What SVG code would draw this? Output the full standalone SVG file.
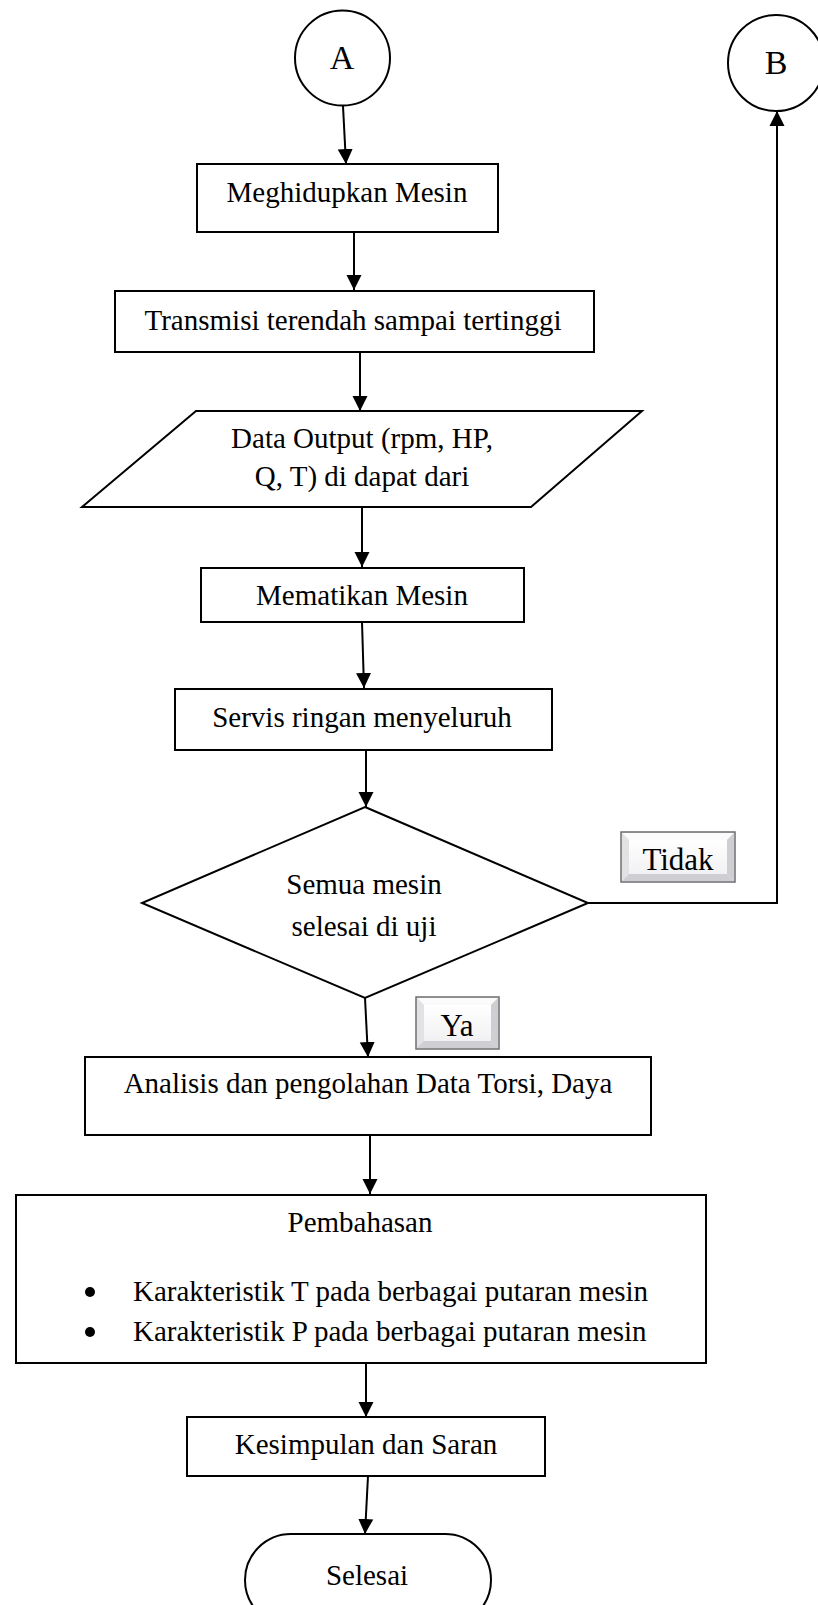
<svg xmlns="http://www.w3.org/2000/svg" width="818" height="1605" viewBox="0 0 818 1605">
  <style>
    .shape { fill: #ffffff; stroke: #000000; stroke-width: 2; }
    .txt { font-family: "Liberation Serif", "Times New Roman", serif; font-size: 29px; fill: #000000; }
    .mid { text-anchor: middle; }
    .big { font-size: 34px; }
    .lbl { font-family: "Liberation Serif", "Times New Roman", serif; font-size: 31px; fill: #000000; text-anchor: middle; }
    .conn { fill: none; stroke: #000000; stroke-width: 2; }
    .bev-out { fill: #e9e9ec; stroke: #6e6e70; stroke-width: 1.5; }
    .bev-lt { fill: #fbfbfb; }
    .bev-dk { fill: #cfcfd3; }
    .bev-md { fill: #e2e2e5; }
  </style>
  <defs>
    <marker id="arrow" markerUnits="userSpaceOnUse" markerWidth="16" markerHeight="16" viewBox="0 0 16 16" refX="15" refY="8" orient="auto">
      <path d="M0,0.5 L15,8 L0,15.5 Z" fill="#000000"/>
    </marker>
    <linearGradient id="face" x1="0" y1="0" x2="0" y2="1">
      <stop offset="0" stop-color="#ffffff"/>
      <stop offset="1" stop-color="#f1f1f3"/>
    </linearGradient>
  </defs>

  <rect width="818" height="1605" fill="#ffffff"/>

  <!-- connectors -->
  <g id="connectors">
    <line class="conn" x1="343" y1="106" x2="346" y2="164" marker-end="url(#arrow)"/>
    <line class="conn" x1="354" y1="232" x2="354" y2="290" marker-end="url(#arrow)"/>
    <line class="conn" x1="360" y1="352" x2="360" y2="411" marker-end="url(#arrow)"/>
    <line class="conn" x1="362" y1="507" x2="362" y2="567" marker-end="url(#arrow)"/>
    <line class="conn" x1="362" y1="622" x2="364" y2="688" marker-end="url(#arrow)"/>
    <line class="conn" x1="366" y1="750" x2="366" y2="807" marker-end="url(#arrow)"/>
    <polyline class="conn" points="588,903 777,903 777,111" marker-end="url(#arrow)"/>
    <line class="conn" x1="365" y1="998" x2="368" y2="1057" marker-end="url(#arrow)"/>
    <line class="conn" x1="370" y1="1135" x2="370" y2="1194" marker-end="url(#arrow)"/>
    <line class="conn" x1="366" y1="1363" x2="366" y2="1417" marker-end="url(#arrow)"/>
    <line class="conn" x1="368" y1="1476" x2="365" y2="1534" marker-end="url(#arrow)"/>
  </g>

  <!-- connector A -->
  <g id="node-a">
    <circle class="shape" cx="342.5" cy="58" r="47.5"/>
    <text class="txt mid big" x="342" y="69">A</text>
  </g>

  <!-- connector B -->
  <g id="node-b">
    <circle class="shape" cx="776" cy="63" r="48"/>
    <text class="txt mid big" x="776" y="74">B</text>
  </g>

  <g id="node-start-engine">
    <rect class="shape" x="197" y="164" width="301" height="68"/>
    <text class="txt mid" x="347" y="202">Meghidupkan Mesin</text>
  </g>

  <g id="node-transmission">
    <rect class="shape" x="115" y="291" width="479" height="61"/>
    <text class="txt mid" x="353" y="330">Transmisi terendah sampai tertinggi</text>
  </g>

  <g id="node-output-data">
    <polygon class="shape" points="196,411 642,411 531,507 82,507"/>
    <text class="txt mid" x="362" y="448">Data Output (rpm, HP,</text>
    <text class="txt mid" x="362" y="486">Q, T) di dapat dari</text>
  </g>

  <g id="node-stop-engine">
    <rect class="shape" x="201" y="568" width="323" height="54"/>
    <text class="txt mid" x="362" y="605">Mematikan Mesin</text>
  </g>

  <g id="node-service">
    <rect class="shape" x="175" y="689" width="377" height="61"/>
    <text class="txt mid" x="362" y="727">Servis ringan menyeluruh</text>
  </g>

  <g id="node-decision">
    <polygon class="shape" points="365,807 588,903 365,998 142,903"/>
    <text class="txt mid" x="364" y="894">Semua mesin</text>
    <text class="txt mid" x="364" y="936">selesai di uji</text>
  </g>

  <!-- bevelled branch labels -->
  <g id="label-tidak">
    <rect class="bev-out" x="621" y="832" width="114" height="50"/>
    <polygon class="bev-lt" points="622,833 734,833 727,840 629,840"/>
    <polygon class="bev-md" points="622,833 629,840 629,874 622,881"/>
    <polygon class="bev-dk" points="734,833 734,881 727,874 727,840"/>
    <polygon class="bev-dk" points="622,881 629,874 727,874 734,881"/>
    <rect x="629" y="840" width="98" height="34" fill="url(#face)"/>
    <text class="lbl" x="678" y="870">Tidak</text>
  </g>

  <g id="label-ya">
    <rect class="bev-out" x="416" y="997" width="83" height="52"/>
    <polygon class="bev-lt" points="417,998 498,998 491,1005 424,1005"/>
    <polygon class="bev-md" points="417,998 424,1005 424,1041 417,1048"/>
    <polygon class="bev-dk" points="498,998 498,1048 491,1041 491,1005"/>
    <polygon class="bev-dk" points="417,1048 424,1041 491,1041 498,1048"/>
    <rect x="424" y="1005" width="67" height="36" fill="url(#face)"/>
    <text class="lbl" x="457" y="1036">Ya</text>
  </g>

  <g id="node-analysis">
    <rect class="shape" x="85" y="1057" width="566" height="78"/>
    <text class="txt mid" x="368" y="1093">Analisis dan pengolahan Data Torsi, Daya</text>
  </g>

  <g id="node-discussion">
    <rect class="shape" x="16" y="1195" width="690" height="168"/>
    <text class="txt mid" x="360" y="1232">Pembahasan</text>
    <circle cx="90" cy="1292" r="5" fill="#000000"/>
    <text class="txt" x="133" y="1301">Karakteristik T pada berbagai putaran mesin</text>
    <circle cx="90" cy="1332" r="5" fill="#000000"/>
    <text class="txt" x="133" y="1341">Karakteristik P pada berbagai putaran mesin</text>
  </g>

  <g id="node-conclusion">
    <rect class="shape" x="187" y="1417" width="358" height="59"/>
    <text class="txt mid" x="366" y="1454">Kesimpulan dan Saran</text>
  </g>

  <g id="node-end">
    <rect class="shape" x="245" y="1534" width="246" height="92" rx="46" ry="46"/>
    <text class="txt mid" x="367" y="1585">Selesai</text>
  </g>
</svg>
